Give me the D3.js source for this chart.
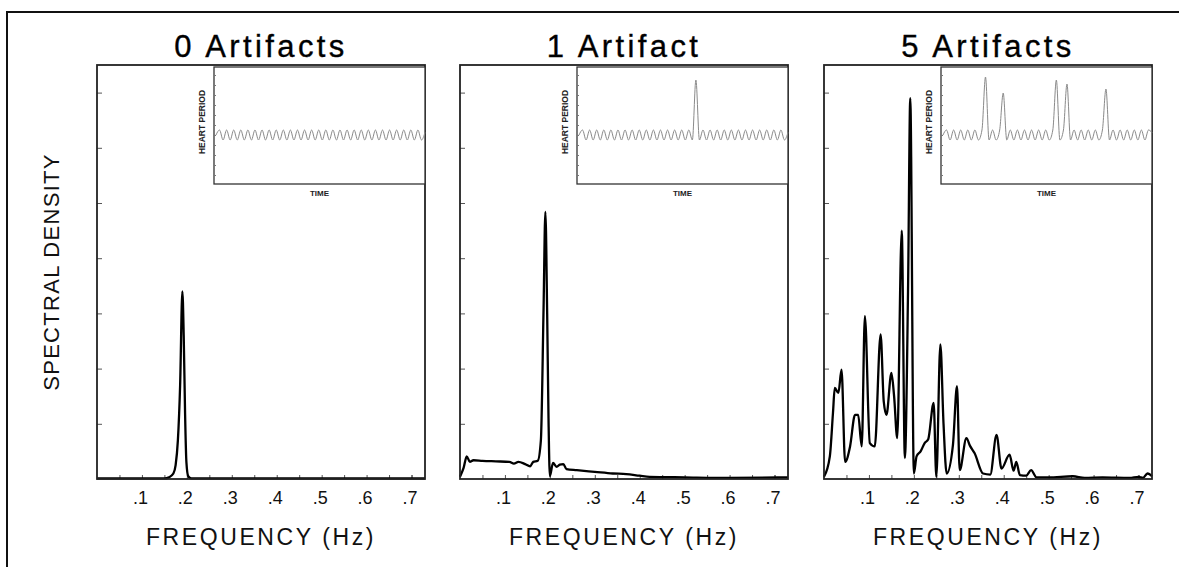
<!DOCTYPE html>
<html>
<head>
<meta charset="utf-8">
<script src="https://cdn.jsdelivr.net/npm/d3@7"></script>
<style>
  body { margin: 0; background: #fff; }
  svg { display: block; }
</style>
</head>
<body>
<script>
// ---- data ----
var panelTitles = ["0 Artifacts", "1 Artifact", "5 Artifacts"];
var freqTicks = [0.1, 0.2, 0.3, 0.4, 0.5, 0.6, 0.7];
var freqMinor = [0.05, 0.15, 0.25, 0.35, 0.45, 0.55, 0.65, 0.7];
var densityTicks = [1, 2, 3, 4, 5, 6, 7];

// spectra: [frequency (Hz), spectral density]
var spec0 = [[0, 0.01], [0.1, 0.01], [0.15, 0.01], [0.16, 0.03], [0.17, 0.1], [0.175, 0.25],
    [0.18, 0.7], [0.185, 1.7], [0.19, 3.4], [0.193, 2.6], [0.196, 1.2], [0.199, 0.3],
    [0.203, 0.05], [0.21, 0.01], [0.4, 0.01], [0.73, 0.01]];

var spec1 = [[0, 0.04], [0.008, 0.2], [0.015, 0.41], [0.022, 0.31], [0.03, 0.34], [0.05, 0.33],
    [0.08, 0.32], [0.11, 0.31], [0.12, 0.28], [0.13, 0.31], [0.145, 0.27], [0.156, 0.23],
    [0.163, 0.31], [0.173, 0.33], [0.18, 0.7], [0.186, 3.1], [0.19, 4.84], [0.194, 3.0],
    [0.197, 1.1], [0.2, 0.05], [0.207, 0.29], [0.215, 0.22], [0.222, 0.26], [0.23, 0.27],
    [0.237, 0.18], [0.26, 0.16], [0.3, 0.13], [0.34, 0.1], [0.37, 0.09], [0.4, 0.06],
    [0.422, 0.04], [0.5, 0.03], [0.6, 0.02], [0.73, 0.03]];

var spec5 = [[0, 0.04], [0.013, 0.41], [0.02, 1.2], [0.024, 1.65], [0.032, 1.56], [0.039, 1.98],
    [0.047, 0.31], [0.058, 0.59], [0.069, 1.16], [0.076, 1.16], [0.084, 0.59], [0.091, 2.95],
    [0.102, 0.65], [0.113, 0.59], [0.126, 2.62], [0.133, 1.4], [0.139, 1.16], [0.15, 1.92],
    [0.156, 1.5], [0.163, 0.74], [0.173, 4.5], [0.18, 0.38], [0.187, 3.4], [0.192, 6.9],
    [0.2, 0.1], [0.206, 0.41], [0.215, 0.5], [0.224, 0.65], [0.232, 0.72], [0.244, 1.38],
    [0.25, 0.04], [0.259, 2.44], [0.266, 1.0], [0.273, 0.1], [0.287, 0.62], [0.296, 1.68],
    [0.302, 0.16], [0.317, 0.74], [0.325, 0.6], [0.335, 0.47], [0.354, 0.1], [0.37, 0.08],
    [0.384, 0.8], [0.395, 0.19], [0.413, 0.44], [0.422, 0.15], [0.428, 0.31], [0.436, 0.07],
    [0.45, 0.06], [0.461, 0.16], [0.473, 0.03], [0.5, 0.03], [0.554, 0.05], [0.58, 0.02],
    [0.62, 0.03], [0.68, 0.02], [0.7, 0.04], [0.71, 0.02], [0.72, 0.1], [0.73, 0.05]];

// inset heart period series (samples at half cycles)
var beat0 = [0, 1, -1, 1, -1, 1, -1, 1, -1, 1, -1, 1, -1, 1, -1, 1, -1, 1, -1, 1, -1,
    1, -1, 1, -1, 1, -1, 1, -1, 1, -1, 1, -1, 1, -1, 1, -1, 1, -1, 1, -1,
    1, -1, 1, -1, 1, -1, 1, -1, 1, -1, 1, -1, 1, -1, 1, -1, 1, -1, 0.5];
var beat1 = [0, 1, -1, 1, -1, 1, -1, 1, -1, 1, -1, 1, -1, 1, -1, 1, -1, 1, -1, 1, -1,
    1, -1, 1, -1, 1, -1, 1, -1, 1, -1, 1, -1, 11, -1, 1, -1, 1, -1, 1, -1,
    1, -1, 1, -1, 1, -1, 1, -1, 1, -1, 1, -1, 1, -1, 1, -1, 1, -1, 0.5];
var beat5 = [0, 1, -1, 1, -1, 1, -1, 1, -1, 1, -1, 1, 11.6, -1, 1, -1, 1, 8.4, -1, 1, -1,
    1, -1, 1, -1, 1, -1, 1, -1, 1, -1, 1, 11, -1, 1, 10.2, -1, 1, -1, 1, -1,
    1, -1, 1, -1, 1, 9.2, -1, 1, -1, 1, -1, 1, -1, 1, -1, 1, -1, 1, 0.5];

var spectra = [spec0, spec1, spec5];
var beats = [beat0, beat1, beat5];

// ---- layout ----
var W = 1179, H = 567;
var panelLeft = [97, 460, 824],
    panel_w = 328,
    panel_top = 65,
    panel_bottom = 479;

var frame_col = "#222";
var font = "Liberation Sans, Arial, sans-serif";

var svg = d3.select("body").append("svg")
    .attr("width", W)
    .attr("height", H);

// outer frame (top and left only show)
svg.append("path")
    .attr("d", "M7," + H + "V12H" + W)
    .attr("fill", "none")
    .attr("stroke", "#111")
    .attr("stroke-width", 2);

svg.append("text")
    .text("SPECTRAL DENSITY")
    .attr("transform", "translate(59,272) rotate(-90)")
    .attr("text-anchor", "middle")
    .attr("font-family", font)
    .attr("font-size", "22px")
    .attr("letter-spacing", "1.3px")
    .attr("fill", "#111");

function draw_panel(i) {
    var x0 = panelLeft[i];
    var g = svg.append("g");

    var xScale = d3.scaleLinear()
        .domain([0, 0.73])
        .range([x0, x0 + panel_w]);
    var yScale = d3.scaleLinear()
        .domain([0, 7.5])
        .range([panel_bottom, panel_top]);

    // title
    g.append("text")
        .text(panelTitles[i])
        .attr("x", x0 + panel_w / 2)
        .attr("y", 57)
        .attr("text-anchor", "middle")
        .attr("font-family", font)
        .attr("font-size", "31px")
        .attr("letter-spacing", "3.4px")
        .attr("stroke", "#000")
        .attr("stroke-width", 0.35)
        .attr("fill", "#000");

    // inward ticks
    g.append("g")
        .attr("transform", "translate(" + x0 + ",0)")
        .call(d3.axisRight(yScale).tickValues(densityTicks).tickSize(5).tickFormat(""))
        .call(function(a) { a.select(".domain").remove(); })
        .selectAll("line").attr("stroke", "#555");

    g.append("g")
        .attr("transform", "translate(0," + panel_bottom + ")")
        .call(d3.axisTop(xScale).tickValues(freqMinor.concat(freqTicks)).tickSize(4).tickFormat(""))
        .call(function(a) { a.select(".domain").remove(); })
        .selectAll("line").attr("stroke", "#555");

    // tick labels
    g.append("g")
        .attr("transform", "translate(0," + panel_bottom + ")")
        .call(d3.axisBottom(xScale).tickValues(freqTicks).tickSize(0).tickPadding(12)
            .tickFormat(function(d) { return d3.format(".1f")(d).replace(/^0/, ""); }))
        .call(function(a) {
            a.select(".domain").remove();
            a.selectAll("text")
                .attr("dx", "-2px")
                .attr("font-family", font)
                .attr("font-size", "18px")
                .attr("fill", "#111");
        });

    g.append("text")
        .text("FREQUENCY (Hz)")
        .attr("x", x0 + panel_w / 2)
        .attr("y", 545)
        .attr("text-anchor", "middle")
        .attr("font-family", font)
        .attr("font-size", "23px")
        .attr("letter-spacing", "2.6px")
        .attr("fill", "#111");

    // spectrum
    var line = d3.line()
        .x(function(d) { return xScale(d[0]); })
        .y(function(d) { return yScale(d[1]); })
        .curve(d3.curveMonotoneX);

    g.append("path")
        .datum(spectra[i])
        .attr("d", line)
        .attr("fill", "none")
        .attr("stroke", "#000")
        .attr("stroke-width", 2.3)
        .attr("stroke-linejoin", "round");

    // plot frame
    g.append("rect")
        .attr("x", x0)
        .attr("y", panel_top)
        .attr("width", panel_w)
        .attr("height", panel_bottom - panel_top)
        .attr("fill", "none")
        .attr("stroke", frame_col)
        .attr("stroke-width", 1.8);

    // ==== inset ====
    var in_left = x0 + 117,
        in_right = x0 + panel_w,
        in_top = panel_top + 2,
        in_bottom = panel_top + 119;

    var tScale = d3.scaleLinear()
        .domain([0, beats[i].length - 1])
        .range([in_left + 2, in_right]);
    var hpScale = d3.scaleLinear()
        .domain([-9.8, 13.6])
        .range([in_bottom, in_top]);

    g.append("rect")
        .attr("x", in_left)
        .attr("y", in_top)
        .attr("width", in_right - in_left)
        .attr("height", in_bottom - in_top)
        .attr("fill", "#fff")
        .attr("stroke", "#333")
        .attr("stroke-width", 1.3);

    g.append("g")
        .attr("transform", "translate(" + in_left + ",0)")
        .call(d3.axisRight(hpScale).tickValues([-8, -6, -4, -2, 0, 2, 4, 6, 8, 10, 12]).tickSize(2).tickFormat(""))
        .call(function(a) { a.select(".domain").remove(); })
        .selectAll("line").attr("stroke", "#777");

    var beatLine = d3.line()
        .x(function(d, k) { return tScale(k); })
        .y(function(d) { return hpScale(d); })
        .curve(d3.curveMonotoneX);

    g.append("path")
        .datum(beats[i])
        .attr("d", beatLine)
        .attr("fill", "none")
        .attr("stroke", "#8a8a8a")
        .attr("stroke-width", 1);

    g.append("text")
        .text("TIME")
        .attr("x", (in_left + in_right) / 2)
        .attr("y", in_bottom + 12)
        .attr("text-anchor", "middle")
        .attr("font-family", font)
        .attr("font-size", "8px")
        .attr("font-weight", 700)
        .attr("fill", "#222");

    g.append("text")
        .text("HEART PERIOD")
        .attr("transform", "translate(" + (in_left - 9) + "," + (in_top + 55) + ") rotate(-90)")
        .attr("text-anchor", "middle")
        .attr("font-family", "Liberation Sans Narrow, Liberation Sans, Arial, sans-serif")
        .attr("font-size", "8.5px")
        .attr("font-weight", 700)
        .attr("fill", "#222");
}

[0, 1, 2].forEach(draw_panel);
</script>
</body>
</html>
